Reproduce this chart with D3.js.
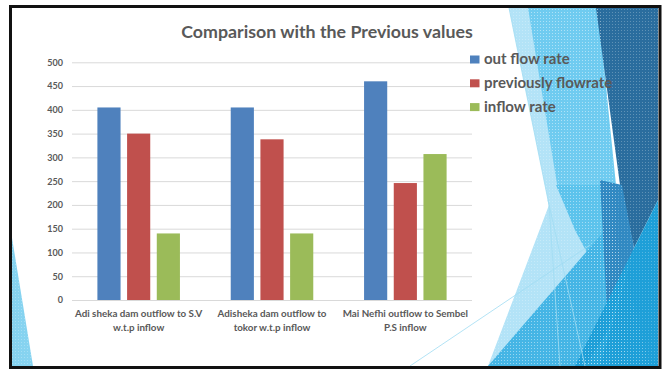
<!DOCTYPE html>
<html><head><meta charset="utf-8">
<script src="https://cdn.jsdelivr.net/npm/d3@7"></script>
<style>html,body{margin:0;padding:0;background:#fff;overflow:hidden}svg{display:block}</style>
</head><body>
<svg id="chart" width="666" height="369"></svg>
<script>
// Chart data
const categories = [
  "Adi sheka dam outflow to S.V\nw.t.p inflow",
  "Adisheka dam outflow to\ntokor w.t.p inflow",
  "Mai Nefhi outflow to Sembel\nP.S inflow"
];
const seriesNames = ["out flow rate", "previously flowrate", "inflow rate"];
const outFlowRate = [405, 405, 460];
const previousFlowRate = [350, 338, 246];
const inflowRate = [140, 140, 307];
const yTicks = [0, 50, 100, 150, 200, 250, 300, 350, 400, 450, 500];
const chartTitle = "Comparison with the Previous values";

const seriesValues = [outFlowRate, previousFlowRate, inflowRate];
const seriesColors = ["#4f81bd", "#c0504d", "#9bbb59"];
const textColor = "#595959";
const fontStack = "Lato, 'Open Sans', sans-serif";

const svg = d3.select("#chart");

// ---- slide background facets ----
const defs = svg.append("defs");
const pat = defs.append("pattern").attr("id", "dots")
  .attr("width", 3).attr("height", 3).attr("patternUnits", "userSpaceOnUse");
pat.append("rect").attr("width", 1).attr("height", 1).attr("fill", "#fff").attr("opacity", 0.25);

const facets = [
  { pts: [[509,8],[600,8],[628,366],[488,366],[549,205]], fill: "#b3e3f7" },
  { pts: [[528,8],[598,8],[616,185],[558,190]], fill: "#6fcbf0" },
  { pts: [[556,185],[617,185],[612,300],[575,230]], fill: "#5cc3ec" },
  { pts: [[488,366],[612,222],[650,366]], fill: "#45b5e5" },
  { pts: [[596,8],[658,8],[658,200],[634,248],[620,185]], fill: "#2a6d9e" },
  { pts: [[600,180],[622,185],[634,248],[608,330]], fill: "#3189c2" },
  { pts: [[658,200],[658,366],[575,366],[634,248]], fill: "#1e9fd8" },
  { pts: [[608,330],[634,248],[600,366],[585,366]], fill: "#27a6dc" },
  { pts: [[12,238],[33,366],[12,366]], fill: "#86d3f0" }
];
const bg = svg.append("g");
bg.selectAll("polygon").data(facets).join("polygon")
  .attr("points", d => d.pts.map(p => p.join(",")).join(" "))
  .attr("fill", d => d.fill);
bg.selectAll("polygon.tex").data(facets).join("polygon").attr("class", "tex")
  .attr("points", d => d.pts.map(p => p.join(",")).join(" "))
  .attr("fill", "url(#dots)");
// thin light strands across the facets
const strands = [
  [[509,8],[549,205]], [[549,205],[560,366]], [[590,245],[410,366]], [[548,200],[585,366]]
];
bg.selectAll("line").data(strands).join("line")
  .attr("x1", d => d[0][0]).attr("y1", d => d[0][1])
  .attr("x2", d => d[1][0]).attr("y2", d => d[1][1])
  .attr("stroke", "#9fdcf3").attr("stroke-width", 0.8);

// slide frame
svg.append("rect").attr("x", 10.5).attr("y", 6.5).attr("width", 649.5).attr("height", 361)
  .attr("fill", "none").attr("stroke", "#111").attr("stroke-width", 3);

// ---- chart ----
const plot = { left: 72, right: 472, top: 62.3, bottom: 300 };

const y = d3.scaleLinear().domain([0, 500]).range([plot.bottom, plot.top]);
const x0 = d3.scaleBand().domain(d3.range(categories.length))
  .range([plot.left, plot.right]).paddingInner(0.381).paddingOuter(0.1905);
const x1 = d3.scaleBand().domain(d3.range(seriesNames.length))
  .range([0, x0.bandwidth()]).paddingInner(0.22).paddingOuter(0);

// gridlines + tick labels through a d3 axis
const yAxis = d3.axisLeft(y).tickValues(yTicks)
  .tickSize(-(plot.right - plot.left)).tickPadding(9);
const gy = svg.append("g").attr("transform", `translate(${plot.left},0)`).call(yAxis);
gy.select(".domain").remove();
gy.selectAll(".tick line").attr("stroke", "#d9d9d9").attr("stroke-width", 1);
gy.selectAll(".tick text").attr("fill", textColor)
  .style("font-family", fontStack)
  .style("font-size", "9px").style("font-weight", "bold");

// bars
const groups = svg.append("g").selectAll("g").data(categories).join("g")
  .attr("transform", (d, i) => `translate(${x0(i)},0)`);
groups.selectAll("rect")
  .data((d, i) => seriesValues.map((vals, s) => ({ s, v: vals[i] })))
  .join("rect")
  .attr("x", d => x1(d.s))
  .attr("width", x1.bandwidth())
  .attr("y", d => y(d.v))
  .attr("height", d => y(0) - y(d.v))
  .attr("fill", d => seriesColors[d.s]);

// category labels
const catText = svg.append("g").selectAll("text").data(categories).join("text")
  .attr("x", (d, i) => x0(i) + x0.bandwidth() / 2)
  .attr("y", 317)
  .attr("text-anchor", "middle")
  .attr("fill", textColor)
  .style("font-family", fontStack)
  .style("font-size", "9.8px").style("font-weight", "bold");
catText.selectAll("tspan").data(d => d.split("\n")).join("tspan")
  .attr("x", function () { return this.parentNode.getAttribute("x"); })
  .attr("dy", (d, i) => i === 0 ? 0 : 14.4)
  .text(d => d);

// title
svg.append("text").attr("x", 327).attr("y", 37.5).attr("text-anchor", "middle")
  .attr("fill", textColor)
  .style("font-family", fontStack)
  .style("font-size", "17.8px").style("font-weight", "bold")
  .text(chartTitle);

// legend
const legend = svg.append("g").selectAll("g").data(seriesNames).join("g")
  .attr("transform", (d, i) => `translate(470,${55.5 + i * 23.8})`);
legend.append("rect").attr("width", 9.5).attr("height", 8)
  .attr("fill", (d, i) => seriesColors[i]);
legend.append("text").attr("x", 14).attr("y", 8.5)
  .attr("fill", textColor)
  .style("font-family", fontStack)
  .style("font-size", "15px").style("font-weight", "bold")
  .text(d => d);
</script>
</body></html>
